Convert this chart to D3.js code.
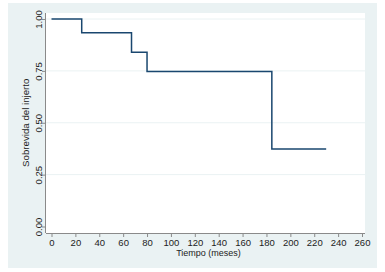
<!DOCTYPE html>
<html><head><meta charset="utf-8">
<script src="https://cdn.jsdelivr.net/npm/d3@7"></script>
<style>body{margin:0;background:#fff}svg{display:block}text{font-family:"Liberation Sans",Arial,sans-serif;fill:#222}</style>
</head><body>
<script>
// Kaplan-Meier step data
const times = [0, 25.3, 67, 80, 184.5, 230];
const survival = [1.0, 0.9333, 0.84, 0.7467, 0.3733, 0.3733];
const xTicks = [0,20,40,60,80,100,120,140,160,180,200,220,240,260];
const yTicks = [0, 0.25, 0.5, 0.75, 1.0];
const xTitle = "Tiempo (meses)";
const yTitle = "Sobrevida del injerto";

const W = 385, H = 272;
const svg = d3.select("body").append("svg").attr("width", W).attr("height", H);

// graph region
svg.append("rect").attr("x",8).attr("y",3).attr("width",369).attr("height",265).attr("fill","#EAF2F3");
// plot region
const pl = 46, pr = 365, pt = 13, pb = 233;
svg.append("rect").attr("x",pl).attr("y",pt).attr("width",pr-pl).attr("height",pb-pt).attr("fill","#fff");

const x = d3.scaleLinear().domain([0,260]).range([51.5,362]);
const y = d3.scaleLinear().domain([0,1]).range([226.5,19]);

// grid
svg.append("g").selectAll("line").data(yTicks.filter(d=>d>0)).join("line")
  .attr("x1",pl).attr("x2",pr).attr("y1",d=>y(d)).attr("y2",d=>y(d))
  .attr("stroke","#EAF2F3").attr("stroke-width",1);

// x axis
const xa = svg.append("g").attr("transform",`translate(0,${pb})`)
  .call(d3.axisBottom(x).tickValues(xTicks).tickSize(4).tickPadding(2).tickFormat(d3.format("d")));
xa.select(".domain").attr("d",`M${pl},0.5H${pr}`).attr("stroke","#8a8a8a");
xa.selectAll(".tick line").attr("stroke","#8a8a8a");
xa.selectAll("text").attr("font-size","9.5px").attr("fill","#222");

// y axis
const ya = svg.append("g").attr("transform",`translate(${pl},0)`)
  .call(d3.axisLeft(y).tickValues(yTicks).tickSize(4).tickFormat(d3.format(".2f")));
ya.select(".domain").attr("d",`M-0.5,${pt}V${pb}`).attr("stroke","#8a8a8a");
ya.selectAll(".tick line").attr("stroke","#8a8a8a");
ya.selectAll("text").attr("font-size","9.5px").attr("fill","#222")
  .attr("x",null).attr("dy",null)
  .attr("text-anchor","middle")
  .attr("transform","translate(-4.5,0) rotate(-90)")
  .attr("dy","0");

// titles
svg.append("text").attr("x",(pl+pr)/2+3).attr("y",256).attr("text-anchor","middle")
  .attr("font-size","9px").text(xTitle);
svg.append("text").attr("transform",`translate(29,${(19+226.5)/2}) rotate(-90)`)
  .attr("text-anchor","middle").attr("font-size","9.7px").text(yTitle);

// step line
const pts = times.map((t,i)=>[t, survival[i]]);
const line = d3.line().x(d=>x(d[0])).y(d=>y(d[1])).curve(d3.curveStepAfter);
svg.append("path").datum(pts).attr("d",line).attr("fill","none")
  .attr("stroke","#1A476F").attr("stroke-width",1.5);
</script>
</body></html>
